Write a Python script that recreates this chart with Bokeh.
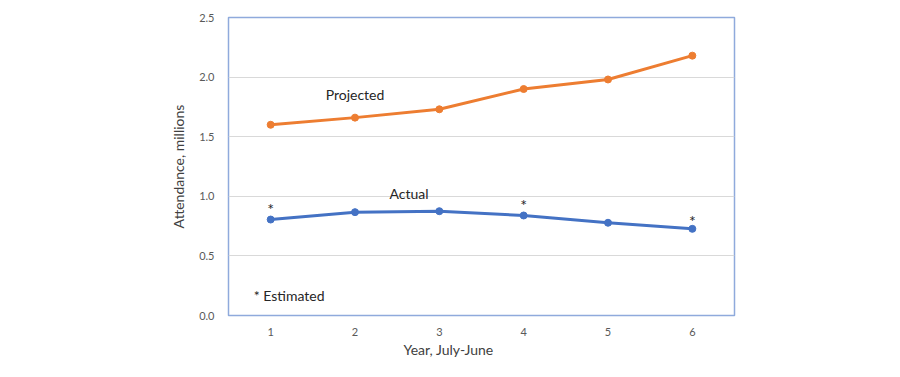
from bokeh.plotting import figure
from bokeh.models import Range1d, FixedTicker, NumeralTickFormatter, ColumnDataSource, Title
from bokeh.core.properties import value
from bokeh.embed import file_html
from bokeh.resources import INLINE

years = [1, 2, 3, 4, 5, 6]
year_labels = ["1", "2", "3", "4", "5", "6"]
projected = [1.60, 1.66, 1.73, 1.90, 1.98, 2.18]
actual = [0.805, 0.867, 0.875, 0.839, 0.778, 0.727]
estimated_years = [1, 4, 6]
y_ticks = [0.0, 0.5, 1.0, 1.5, 2.0, 2.5]

FONT = "Lato"
ORANGE = "#ED7D31"
BLUE = "#4472C4"

p = figure(width=884, height=361, output_backend="svg", toolbar_location=None,
           x_range=Range1d(0.5, 6.5), y_range=Range1d(0, 2.5),
           min_border_left=228, min_border_right=150, min_border_top=17, min_border_bottom=46)

p.outline_line_color = "#8FAADC"
p.outline_line_width = 1.5
p.background_fill_color = "white"
p.border_fill_color = "white"

p.xgrid.grid_line_color = None
p.ygrid.grid_line_color = "#d9d9d9"
p.ygrid.grid_line_width = 1
p.ygrid.ticker = FixedTicker(ticks=y_ticks)

p.xaxis.ticker = FixedTicker(ticks=years)
p.xaxis.major_label_overrides = {y: l for y, l in zip(years, year_labels)}
p.yaxis.ticker = FixedTicker(ticks=y_ticks)
p.yaxis.formatter = NumeralTickFormatter(format="0.0")

for ax in (p.xaxis[0], p.yaxis[0]):
    ax.axis_line_color = None
    ax.major_tick_line_color = None
    ax.minor_tick_line_color = None
    ax.major_tick_out = 0
    ax.major_tick_in = 0
    ax.minor_tick_out = 0
    ax.minor_tick_in = 0
    ax.major_label_text_font = FONT
    ax.major_label_text_font_size = "11px"
    ax.major_label_text_color = "#595959"
    ax.axis_label_text_font = FONT
    ax.axis_label_text_font_size = "14px"
    ax.axis_label_text_font_style = "normal"
    ax.axis_label_text_color = "#404040"

p.yaxis.axis_label = "Attendance, millions"
p.xaxis.major_label_standoff = 12
p.yaxis.major_label_standoff = 14
p.yaxis.axis_label_standoff = 9

# x-axis title (offset left of centre, as in the original)
xt = Title(text="Year, July-June", align="left", offset=175, text_font=FONT, text_font_size="14px",
           text_font_style="normal", text_color="#404040", standoff=0)
p.add_layout(xt, "below")

src = ColumnDataSource(data=dict(x=years, proj=projected, act=actual))
p.line("x", "proj", source=src, line_color=ORANGE, line_width=3)
p.scatter("x", "proj", source=src, size=7, fill_color=ORANGE, line_color=ORANGE)
p.line("x", "act", source=src, line_color=BLUE, line_width=3)
p.scatter("x", "act", source=src, size=7, fill_color=BLUE, line_color=BLUE)

# series labels
p.text(x=[2.0], y=[1.85], text=["Projected"], text_font=value(FONT), text_font_size="14px",
       text_color="#262626", text_align="center", text_baseline="middle")
p.text(x=[2.64], y=[1.02], text=["Actual"], text_font=value(FONT), text_font_size="14px",
       text_color="#262626", text_align="center", text_baseline="middle")

# asterisks over estimated points
est_y = [actual[years.index(y)] + 0.09 for y in estimated_years]
est_y[2] = actual[years.index(6)] + 0.07
p.text(x=estimated_years, y=est_y, text=["*"] * len(estimated_years), text_font=value(FONT),
       text_font_size="16px", text_color="#262626", text_align="center", text_baseline="middle")

p.text(x=[0.8], y=[0.165], text=["* Estimated"], text_font=value(FONT), text_font_size="14px",
       text_color="#262626", text_align="left", text_baseline="middle")

open("out.html", "w").write(file_html(p, INLINE))
